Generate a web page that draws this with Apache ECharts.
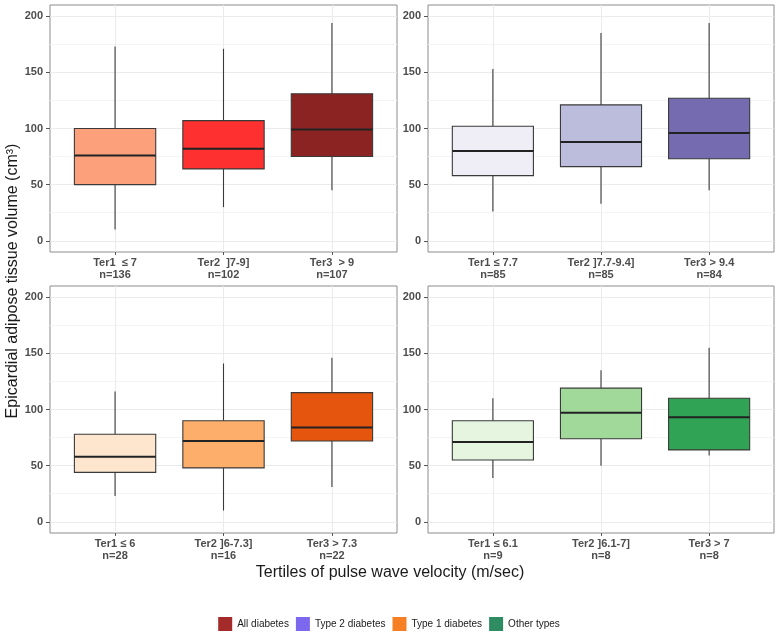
<!DOCTYPE html>
<html>
<head>
<meta charset="utf-8">
<script src="https://cdn.jsdelivr.net/npm/echarts@6/dist/echarts.min.js"></script>
<style>
html,body{margin:0;padding:0;background:#fff;}
#c{width:778px;height:635px;}
</style>
</head>
<body>
<div id="c"></div>
<script>
// ---- data ----
const groupNames = ['All diabetes', 'Type 2 diabetes', 'Type 1 diabetes', 'Other types'];
const groupColours = ['#A52A2A', '#7B68EE', '#F57F22', '#2E8B62'];

const labelsAll = ['Ter1  \u2264 7', 'Ter2  ]7-9]', 'Ter3  > 9'];
const labelsT2 = ['Ter1 \u2264 7.7', 'Ter2 ]7.7-9.4]', 'Ter3 > 9.4'];
const labelsT1 = ['Ter1 \u2264 6', 'Ter2 ]6-7.3]', 'Ter3 > 7.3'];
const labelsOther = ['Ter1 \u2264 6.1', 'Ter2 ]6.1-7]', 'Ter3 > 7'];

const countsAll = [136, 102, 107];
const countsT2 = [85, 85, 84];
const countsT1 = [28, 16, 22];
const countsOther = [9, 8, 8];

// [whisker low, Q1, median, Q3, whisker high]
const statsAll = [[10, 50, 76, 100, 173], [30, 64, 82, 107, 171], [45, 75, 99, 131, 194]];
const statsT2 = [[26, 58, 80, 102, 153], [33, 66, 88, 121, 185], [45, 73, 96, 127, 194]];
const statsT1 = [[23, 44, 58, 78, 116], [10, 48, 72, 90, 141], [31, 72, 84, 115, 146]];
const statsOther = [[39, 55, 71, 90, 110], [50, 74, 97, 119, 135], [59, 64, 93, 110, 155]];

const fillAll = ['#FCA07C', '#FF3030', '#8B2323'];
const fillT2 = ['#EFEDF6', '#BCBDDD', '#756BB1'];
const fillT1 = ['#FEE6CE', '#FDAE6B', '#E6550D'];
const fillOther = ['#E5F5E0', '#A1D99B', '#31A354'];

const yTicks = [0, 50, 100, 150, 200];
const yMinorTicks = [25, 75, 125, 175];
const xPositions = [1, 2, 3];

// ---- build ----
const panels = [
  {labels: labelsAll, counts: countsAll, stats: statsAll, fills: fillAll},
  {labels: labelsT2, counts: countsT2, stats: statsT2, fills: fillT2},
  {labels: labelsT1, counts: countsT1, stats: statsT1, fills: fillT1},
  {labels: labelsOther, counts: countsOther, stats: statsOther, fills: fillOther}
];
const gridPos = [
  {left: 50, top: 5, width: 347, height: 247},
  {left: 428, top: 5, width: 346, height: 247},
  {left: 50, top: 286, width: 347, height: 247},
  {left: 428, top: 286, width: 346, height: 247}
];
const FONT = 'Liberation Sans, Arial, sans-serif';

const grids = [], xAxes = [], yAxes = [], series = [];
panels.forEach((p, i) => {
  grids.push(Object.assign({show: true, borderColor: '#8c8c8c', borderWidth: 1, backgroundColor: '#fff', z: 0}, gridPos[i]));
  xAxes.push({
    type: 'value', gridIndex: i, min: 0.4, max: 3.6, position: 'bottom',
    axisLine: {show: false, onZero: false},
    axisTick: {show: true, customValues: xPositions, length: 3, lineStyle: {color: '#555'}},
    axisLabel: {
      customValues: xPositions, margin: 5, color: '#4d4d4d', fontSize: 11, fontWeight: 'bold',
      fontFamily: FONT, lineHeight: 12,
      formatter: v => { const k = Math.round(v) - 1; return p.labels[k] + '\nn=' + p.counts[k]; }
    },
    splitLine: {show: true, lineStyle: {color: '#ebebeb', width: 1}}
  });
  yAxes.push({
    type: 'value', gridIndex: i, min: -10, max: 210, position: 'left',
    axisLine: {show: false, onZero: false},
    axisTick: {show: true, customValues: yTicks, length: 4, lineStyle: {color: '#555'}},
    axisLabel: {customValues: yTicks, margin: 7, color: '#4d4d4d', fontSize: 11, fontWeight: 'bold', fontFamily: FONT},
    splitLine: {show: true, lineStyle: {color: '#ebebeb', width: 1}}
  });
  yAxes.push({
    type: 'value', gridIndex: i, min: -10, max: 210, position: 'left',
    axisLine: {show: false, onZero: false},
    axisTick: {show: false, customValues: yMinorTicks},
    axisLabel: {show: false, customValues: yMinorTicks},
    splitLine: {show: true, lineStyle: {color: '#f4f4f4', width: 1}}
  });
  const data = p.stats.map((s, k) => [xPositions[k]].concat(s));
  const fills = p.fills;
  series.push({
    type: 'custom', name: groupNames[i],
    xAxisIndex: i, yAxisIndex: i * 2,
    itemStyle: {color: groupColours[i]},
    encode: {x: 0, y: [1, 2, 3, 4, 5]},
    data: data,
    z: 5,
    renderItem: function (params, api) {
      const x = api.value(0);
      const pMin = api.coord([x, api.value(1)]);
      const pQ1 = api.coord([x, api.value(2)]);
      const pMed = api.coord([x, api.value(3)]);
      const pQ3 = api.coord([x, api.value(4)]);
      const pMax = api.coord([x, api.value(5)]);
      const w = api.size([0.75, 0])[0];
      const x0 = pMed[0] - w / 2;
      const stroke = '#3a3a3a';
      return {
        type: 'group',
        children: [
          {type: 'line', shape: {x1: pMax[0], y1: pMax[1], x2: pQ3[0], y2: pQ3[1]}, style: {stroke: stroke, lineWidth: 1.1}},
          {type: 'line', shape: {x1: pQ1[0], y1: pQ1[1], x2: pMin[0], y2: pMin[1]}, style: {stroke: stroke, lineWidth: 1.1}},
          {type: 'rect', shape: {x: x0, y: pQ3[1], width: w, height: pQ1[1] - pQ3[1]},
           style: {fill: fills[params.dataIndex], stroke: stroke, lineWidth: 1.1}},
          {type: 'line', shape: {x1: x0, y1: pMed[1], x2: x0 + w, y2: pMed[1]}, style: {stroke: '#222', lineWidth: 2}}
        ]
      };
    }
  });
});

const chart = echarts.init(document.getElementById('c'), null, {renderer: 'canvas'});
chart.setOption({
  animation: false,
  backgroundColor: '#fff',
  grid: grids,
  xAxis: xAxes,
  yAxis: yAxes,
  series: series,
  legend: {
    top: 617, left: 'center', padding: 0,
    itemWidth: 14, itemHeight: 14, itemGap: 7,
    icon: 'rect',
    textStyle: {fontSize: 10, color: '#1a1a1a', fontFamily: FONT},
    data: groupNames,
    selectedMode: false
  },
  graphic: [
    {type: 'text', x: 13, y: 281, rotation: Math.PI / 2,
     style: {text: 'Epicardial adipose tissue volume (cm\u00B3)', fontSize: 16, fontFamily: FONT, fill: '#1a1a1a',
             textAlign: 'center', textVerticalAlign: 'middle'}},
    {type: 'text', x: 390, y: 573,
     style: {text: 'Tertiles of pulse wave velocity (m/sec)', fontSize: 16, fontFamily: FONT, fill: '#1a1a1a',
             textAlign: 'center', textVerticalAlign: 'middle'}}
  ]
});
</script>
</body>
</html>
